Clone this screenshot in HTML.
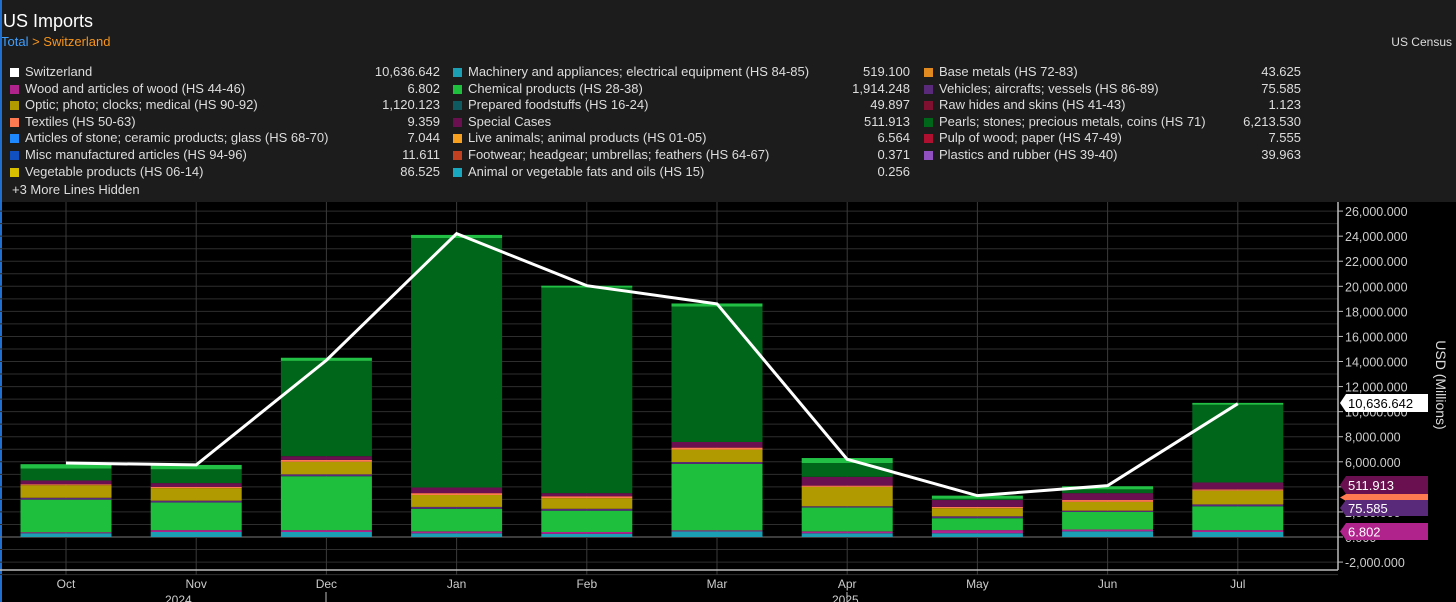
<!DOCTYPE html>
<html><head><meta charset="utf-8"><style>
body{margin:0;background:#000;width:1456px;height:602px;overflow:hidden;font-family:"Liberation Sans",sans-serif;}
#hdr{position:absolute;left:0;top:0;width:1456px;height:202px;background:#1c1c1c;}
#leftbar{position:absolute;left:0;top:0;width:2px;height:602px;background:#1e6fd0;}
.t{position:absolute;white-space:nowrap;color:#ddd;font-size:13px;}
.sq{position:absolute;width:9px;height:9px;}
</style></head><body>
<div id="hdr"></div>
<div class="t" style="left:3px;top:11px;font-size:18px;color:#fff">US Imports</div>
<div class="t" style="left:1px;top:34px;font-size:13px"><span style="color:#3fa0ff">Total</span> <span style="color:#f7941d">&gt; Switzerland</span></div>
<div class="t" style="right:4px;top:35px;font-size:12px">US Census</div>
<div id="legend"></div>
<div class="t" style="left:12px;top:182px">+3 More Lines Hidden</div>
<div id="leftbar"></div>
<svg id="chart" width="1456" height="602" style="position:absolute;left:0;top:0"></svg>
<script>
const months=["Oct","Nov","Dec","Jan","Feb","Mar","Apr","May","Jun","Jul"];
const totals=[5900,5750,14100,24200,20050,18600,6200,3300,4100,10636.642];
const machinery=[300,400,400,300,250,450,300,300,450,400];
const wood=[80,150,150,150,150,80,150,250,150,150];
const chemical=[2600,2200,4300,1800,1700,5300,1900,950,1400,1900];
const vehicles=[150,150,150,150,150,150,100,150,100,150];
const optic=[1000,1000,1000,950,850,1000,1550,650,700,1100];
const textiles=[80,100,150,150,150,150,100,100,150,100];
const special=[300,300,300,450,250,450,700,550,550,550];
const pearls=[950,1100,7600,19900,16400,10800,1100,100,300,6200];
const other=[350,350,250,250,150,250,400,250,250,150];
const yTicks=[26000,24000,22000,20000,18000,16000,14000,12000,10000,8000,6000,4000,2000,0,-2000];
const legendRows=[
["Switzerland","10,636.642","#ffffff"],["Wood and articles of wood (HS 44-46)","6.802","#b0228c"],["Optic; photo; clocks; medical (HS 90-92)","1,120.123","#b09a00"],["Textiles (HS 50-63)","9.359","#ff7a50"],["Articles of stone; ceramic products; glass (HS 68-70)","7.044","#1e88ff"],["Misc manufactured articles (HS 94-96)","11.611","#1050c0"],["Vegetable products (HS 06-14)","86.525","#d8c000"],
["Machinery and appliances; electrical equipment (HS 84-85)","519.100","#1a9fb5"],["Chemical products (HS 28-38)","1,914.248","#1dbf3c"],["Prepared foodstuffs (HS 16-24)","49.897","#0e5a60"],["Special Cases","511.913","#6a1050"],["Live animals; animal products (HS 01-05)","6.564","#f7a020"],["Footwear; headgear; umbrellas; feathers (HS 64-67)","0.371","#c04020"],["Animal or vegetable fats and oils (HS 15)","0.256","#18a8c0"],
["Base metals (HS 72-83)","43.625","#e08a20"],["Vehicles; aircrafts; vessels (HS 86-89)","75.585","#5a2a7a"],["Raw hides and skins (HS 41-43)","1.123","#801030"],["Pearls; stones; precious metals, coins (HS 71)","6,213.530","#006619"],["Pulp of wood; paper (HS 47-49)","7.555","#b01030"],["Plastics and rubber (HS 39-40)","39.963","#9050c0"]];
const NS="http://www.w3.org/2000/svg";
const svg=document.getElementById('chart');
const X0=66,DX=130.2,BW=91;
const xS=i=>X0+i*DX;
const yS=v=>537-v*25.07/2000;
function el(tag,attrs,parent){const e=document.createElementNS(NS,tag);for(const k in attrs)e.setAttribute(k,attrs[k]);(parent||svg).appendChild(e);return e;}
const lg=document.getElementById('legend');
const cols=[[10,25,440],[453,468,910],[924,939,1301]];
legendRows.forEach((r,i)=>{const c=cols[Math.floor(i/7)],row=i%7,y=65+row*16.6;
const s=document.createElement('div');s.className='sq';s.style.left=c[0]+'px';s.style.top=(y+3)+'px';s.style.background=r[2];


lg.appendChild(s);
const n=document.createElement('div');n.className='t';n.style.left=c[1]+'px';n.style.top=(y-1)+'px';n.textContent=r[0];


lg.appendChild(n);
const v=document.createElement('div');v.className='t';v.style.right=(1456-c[2])+'px';v.style.top=(y-1)+'px';v.textContent=r[1];


lg.appendChild(v);});
for(let v=-3000;v<=26000;v+=1000){const g=el('line',{x1:0,x2:1338,y1:yS(v),y2:yS(v),stroke:v===0?'#777':'#2e2e2e','stroke-width':1});

}
months.forEach((m,i)=>{const g=el('line',{x1:xS(i),x2:xS(i),y1:202,y2:575,stroke:'#3a3a3a','stroke-width':1});


const t=el('text',{x:xS(i),y:588,fill:'#ccc','font-size':12,'text-anchor':'middle','font-family':'Liberation Sans, sans-serif'});t.textContent=m;

});
const series=[[machinery,'#1a9fb5'],[wood,'#b0228c'],[chemical,'#1dbf3c'],[vehicles,'#5a2a7a'],[optic,'#b09a00'],[textiles,'#ff7a50'],[special,'#6a1050'],[pearls,'#006619'],[other,'#22c044']];
months.forEach((m,i)=>{let base=0;series.forEach(([arr,col])=>{const v=arr[i];const r=el('rect',{x:xS(i)-BW/2,y:yS(base+v),width:BW,height:Math.max(0,yS(base)-yS(base+v)),fill:col});


base+=v;});});
const pl=el('polyline',{points:totals.map((v,i)=>xS(i)+','+yS(v)).join(' '),fill:'none',stroke:'#fff','stroke-width':3});


const xa=el('line',{x1:0,x2:1338,y1:570,y2:570,stroke:'#bbb','stroke-width':1.5});


const ya=el('line',{x1:1338,x2:1338,y1:202,y2:570,stroke:'#bbb','stroke-width':1.5});


yTicks.forEach(v=>{const tk=el('line',{x1:1338,x2:1343,y1:yS(v),y2:yS(v),stroke:'#bbb'});


const t=el('text',{x:1345,y:yS(v)+5,fill:'#ccc','font-size':12.5,'font-family':'Liberation Sans, sans-serif'});
t.textContent=v.toLocaleString('en-US',{minimumFractionDigits:3});

});
[[165,'2024'],[832,'2025']].forEach(([x,s])=>{const t=el('text',{x:x,y:604,fill:'#ccc','font-size':12,'font-family':'Liberation Sans, sans-serif'});t.textContent=s;

});
[326,847].forEach(x=>{const l=el('line',{x1:x,x2:x,y1:592,y2:602,stroke:'#bbb'});

});
const yt=el('text',{x:1436,y:385,fill:'#ddd','font-size':14,'text-anchor':'middle',transform:'rotate(90 1436 385)','font-family':'Liberation Sans, sans-serif'});yt.textContent='USD (Millions)';


const tags=[[totals[9],'10,636.642','#fff','#000',394,18],[0,'511.913','#6a1050','#fff',476,18],[0,'','#ff7a50','#fff',494,7],[0,'75.585','#5a2a7a','#fff',500,16],[0,'6.802','#b0228c','#fff',523,17]];
tags.forEach(([v,s,bg,fg,y,h])=>{const r=el('polygon',{points:`1340,${y+h/2} 1346,${y} 1428,${y} 1428,${y+h} 1346,${y+h}`,fill:bg});


if(s){const t=el('text',{x:1348,y:y+h/2+5,fill:fg,'font-size':13,'font-family':'Liberation Sans, sans-serif'});t.textContent=s;

}});
</script>
</body></html>
